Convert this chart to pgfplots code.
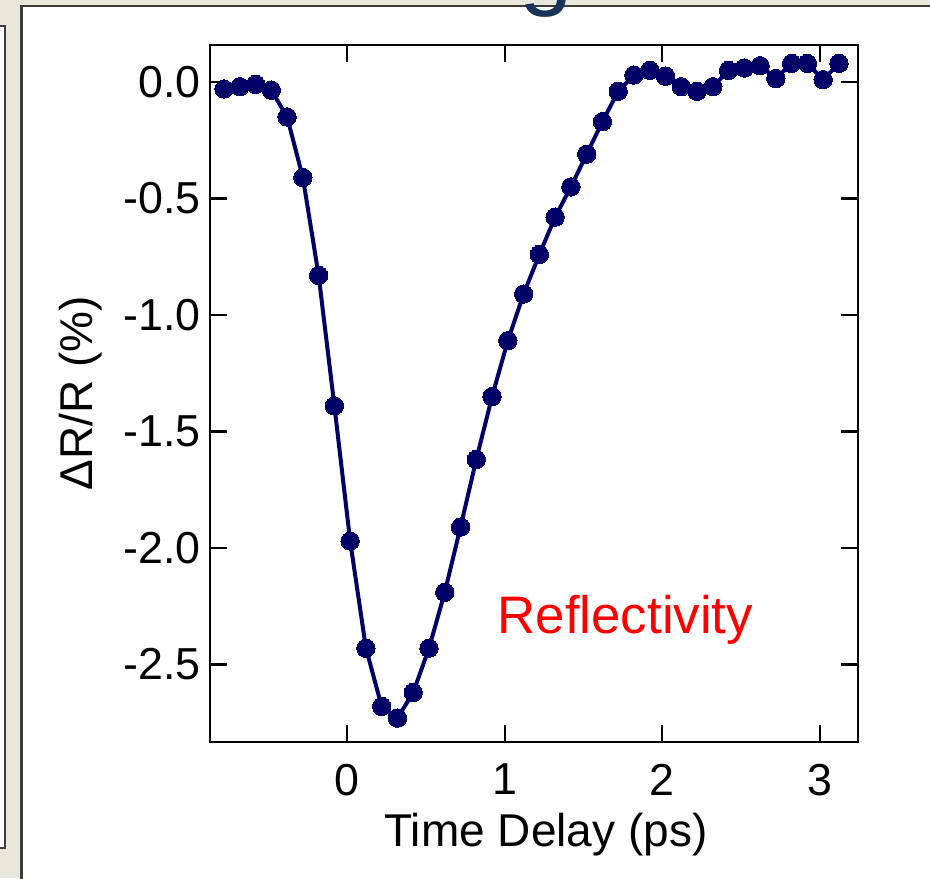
\documentclass[border=0pt]{standalone}
\usepackage{fontspec}
\setmainfont{Liberation Sans}
\usepackage{pgfplots}
\pgfplotsset{compat=1.18}
\definecolor{navy}{RGB}{0,0,102}
\definecolor{slidebg}{RGB}{232,232,218}
\definecolor{framegray}{RGB}{60,60,60}
\definecolor{titleblue}{RGB}{25,50,90}
\begin{document}
\begin{tikzpicture}[x=0.25pt,y=0.25pt]
\useasboundingbox (0,0) rectangle (930,878);
\begin{scope}
\clip (0,0) rectangle (930,878);
\fill[slidebg] (0,0) rectangle (930,878);
\draw[framegray, line width=0.6pt, fill=white] (-10,852) rectangle (5,30);
\draw[framegray, line width=0.7pt, fill=white] (21.5,872) rectangle (940,-12);
\node[titleblue, font=\fontsize{24}{28}\selectfont, anchor=base, inner sep=0] at (546,880) {g};
\end{scope}
\begin{axis}[
  at={(210pt*0.25,136pt*0.25)}, anchor=south west,
  scale only axis, width=162pt, height=174.25pt,
  xmin=-0.869, xmax=3.241, ymin=-2.8326, ymax=0.1588,
  axis line style={line width=0.65pt, black},
  tick style={line width=0.55pt, black},
  major tick length=4.2pt, tick align=inside,
  xtick={0,1,2,3}, ytick={-2.5,-2,-1.5,-1,-0.5,0},
  yticklabel style={/pgf/number format/fixed, /pgf/number format/fixed zerofill, /pgf/number format/precision=1},
  /pgf/number format/assume math mode=true,
  ticklabel style={font=\fontsize{11.2}{13}\selectfont},
  xticklabel style={inner sep=0pt, anchor=north, yshift=-5.25pt},
  yticklabel style={inner sep=0pt, anchor=east, xshift=-2.2pt},
  xlabel={Time Delay (ps)},
  ylabel={ΔR/R (\%)},
  label style={font=\fontsize{11.5}{13}\selectfont},
  xlabel style={at={(axis description cs:0.5185,-0.1506)}, anchor=base, inner sep=0pt},
  ylabel style={at={(axis description cs:-0.1821,0.5)}, anchor=base, inner sep=0pt},
]
\addplot[navy, line width=1pt, mark=*, mark size=2.3pt, mark options={fill=navy, draw=navy, line width=0pt}] table {
x y
-0.78 -0.03
-0.68 -0.02
-0.58 -0.01
-0.48 -0.035
-0.38 -0.15
-0.28 -0.41
-0.18 -0.83
-0.08 -1.39
0.02 -1.97
0.12 -2.43
0.22 -2.68
0.32 -2.73
0.42 -2.62
0.52 -2.43
0.62 -2.19
0.72 -1.91
0.82 -1.62
0.92 -1.35
1.02 -1.11
1.12 -0.91
1.22 -0.74
1.32 -0.58
1.42 -0.45
1.52 -0.31
1.62 -0.17
1.72 -0.04
1.82 0.03
1.92 0.05
2.02 0.025
2.12 -0.02
2.22 -0.04
2.32 -0.02
2.42 0.05
2.52 0.06
2.62 0.07
2.72 0.015
2.82 0.08
2.92 0.08
3.02 0.01
3.12 0.08
};
\node[red, anchor=base west, inner sep=0pt, font=\fontsize{13.2}{15}\selectfont] at (axis cs:0.951,-2.365) {Reflectivity};
\end{axis}
\end{tikzpicture}
\end{document}
